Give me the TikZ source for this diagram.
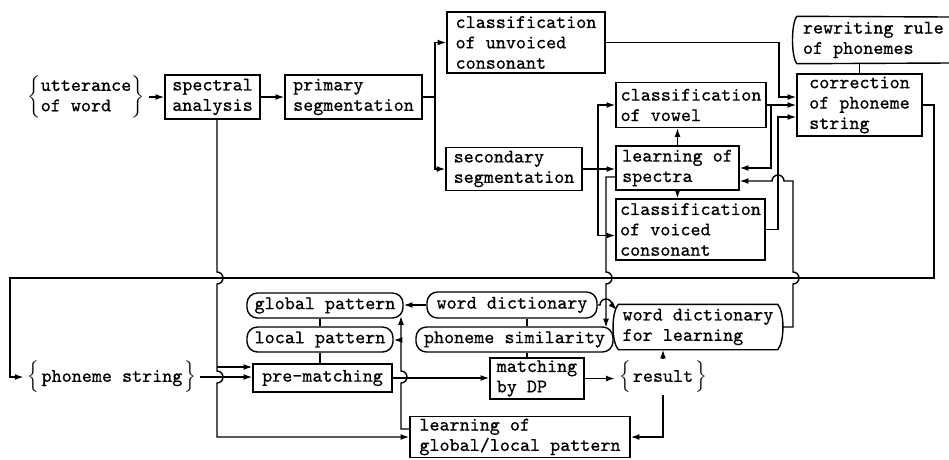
\documentclass[tikz,border=0pt]{standalone}
\usepackage{fontspec}
\setmonofont{Latin Modern Mono}[FakeBold=0.6]
\usetikzlibrary{arrows.meta,calc}
\tikzset{sz/.style 2 args={minimum width=#1*0.2mm, minimum height=#2*0.2mm}}

\begin{document}
\begin{tikzpicture}[
  x=0.2mm, y=-0.2mm,
  every node/.style={font=\fontsize{10.9}{11.6}\selectfont\ttfamily, inner xsep=2pt, inner ysep=1pt},
  box/.style={draw, line width=0.8pt, align=left},
  store/.style={draw, line width=0.8pt, rounded corners=6pt, align=left},
  arrow/.style={-{Latex[length=5pt,width=3.4pt]}, line width=0.8pt},
  line width=0.8pt
]
\useasboundingbox (0,0) rectangle (949,459);

% upper half
\node (utter) at (86,97) {$\left\{\begin{tabular}{@{}l@{}}utterance\\of word\end{tabular}\right\}$};
\node[box, sz={95}{44}] (spec) at (212.5,97) {spectral\\analysis};
\node[box, sz={137}{44}] (prim) at (353.5,97) {primary\\segmentation};
\node[box, sz={158}{61}] (unv) at (526,42.5) {classification\\of unvoiced\\consonant};
\node[box, sz={136}{43}] (sec) at (514,169) {secondary\\segmentation};
\node[box, sz={150}{45}] (vow) at (691,105) {classification\\of vowel};
\node[box, sz={123}{44}] (lspec) at (677.5,168) {learning of\\spectra};
\node[box, sz={149}{61}] (voi) at (690.5,229.5) {classification\\of voiced\\consonant};
\node[box, sz={125}{62}] (corr) at (859.5,105) {correction\\of phoneme\\string};
\node[align=left, anchor=west, inner xsep=3pt, minimum height=46*0.2mm] (rew) at (797,40) {rewriting rule\\of phonemes};
\draw (949,17) -- (rew.north west) .. controls +(-6,6) and +(-6,-6) .. (rew.south west) -- (949,63);

% lower half
\node (phstr) at (112,377) {$\left\{\rule[-5pt]{0pt}{15pt}\right.$phoneme string$\left.\rule[-5pt]{0pt}{15pt}\right\}$};
\node[store, sz={156}{25}] (glob) at (325,305.5) {global pattern};
\node[store, sz={146}{25}] (loc) at (320,339.5) {local pattern};
\node[box, sz={139}{28}] (pre) at (322.5,378) {pre-matching};
\node[store, sz={170}{26}] (wdict) at (512,305) {word dictionary};
\node[store, sz={197}{25}] (phsim) at (514.5,339.5) {phoneme similarity};
\node[box, sz={94}{41}] (dp) at (537,378.5) {matching\\by DP};
\node (res) at (663,377) {$\left\{\rule[-5pt]{0pt}{15pt}\right.$result$\left.\rule[-5pt]{0pt}{15pt}\right\}$};
\node[align=left, inner xsep=1pt, sz={158}{44}] (wdl) at (698,327) {word dictionary\\for learning};
\draw (wdl.north west) .. controls +(-7,8) and +(-7,-8) .. (wdl.south west) -- (wdl.south east)
  .. controls +(7,-8) and +(7,8) .. (wdl.north east) -- cycle;
\node[box, sz={220}{41}] (lgl) at (520,437) {learning of\\global/local pattern};

% top row
\draw[arrow] (utter) -- (spec);
\draw[arrow] (spec) -- (prim);
\coordinate (fork1) at (435,97);
\draw (prim.east) -- (fork1);
\draw[arrow] (fork1) |- (unv.west);
\draw[arrow] (fork1) |- (sec.west);
\draw[arrow] (unv.east) -- (779,42.5) |- ($(corr.west)+(0,-8)$);
\draw[arrow] (vow.east) -- (vow.east -| corr.west);
\coordinate (fork3) at (771,105);
\draw[arrow] (fork3) |- (lspec.east);
\draw[arrow] (voi.east) -| (778,117) -- ($(corr.west)+(0,12)$);
\draw (corr.north) -- (corr.north |- rew.south);

% spectra learning
\draw[arrow] (sec.east) -- (sec.east -| lspec.west);
\coordinate (fork2) at (598,169);
\draw[arrow] (fork2) |- (vow.west);
\draw[arrow] (fork2) |- ($(voi.west)+(0,6)$);
\draw[arrow] (lspec.north) -- (lspec.north |- vow.south);
\draw[arrow] (lspec.south) -- (lspec.south |- voi.north);
\draw[arrow] ($(lspec.west)+(0,9)$) -- (606,177) -- (606,272)
  arc[start angle=90, end angle=-90, radius=1.2mm] -- (606,327.5);
\draw[arrow] ($(wdl.east)+(5,0)$) -- (793,327) -- (793,284)
  arc[start angle=-90, end angle=90, radius=1.2mm] -- (793,181) -- (784,181)
  arc[start angle=0, end angle=180, radius=1.2mm] -- ($(lspec.east)+(0,13)$);
\draw[arrow] (wdict.east) -- (600,305) arc[start angle=180, end angle=0, radius=1.2mm] -- (617,310);

% feedback of phoneme string
\draw[arrow] (corr.east) -- (934,105) |- (10,278) |- (phstr.west);

% matching
\coordinate (tap1) at (217,367);
\draw[arrow] ($(spec.south)+(4.5,0)$) -- (217,272) arc[start angle=90, end angle=-90, radius=1.2mm]
  -- (217,371) arc[start angle=90, end angle=-90, radius=1.2mm] |- (lgl.west);
\draw[arrow] (tap1) -- (tap1 -| pre.west);
\draw[arrow] (phstr.east) -- (phstr.east -| pre.west);
\draw[arrow] (pre.east) -- (pre.east -| dp.west);
\draw[arrow] ($(lgl.west)+(0,-8)$) -| (401,383) arc[start angle=-90, end angle=90, radius=1.2mm] -- (401,316);
\coordinate (tap2) at (401,340);
\draw[arrow] (tap2) -- (tap2 -| loc.east);
\draw[arrow] (wdict.west) -- (wdict.west -| glob.east);
\draw (glob.south -| loc.north) -- (loc.north);
\draw (loc.south) -- (loc.south |- pre.north);
\coordinate (col1) at (527,0);
\draw (wdict.south -| col1) -- (phsim.north -| col1);
\draw (phsim.south -| col1) -- (dp.north -| col1);
\draw[arrow] (dp.east) -- (dp.east -| res.west);
\draw[arrow] (res.north) -- (res.north |- wdl.south);
\draw[arrow] (res.south) |- (lgl.east);

\end{tikzpicture}
\end{document}
